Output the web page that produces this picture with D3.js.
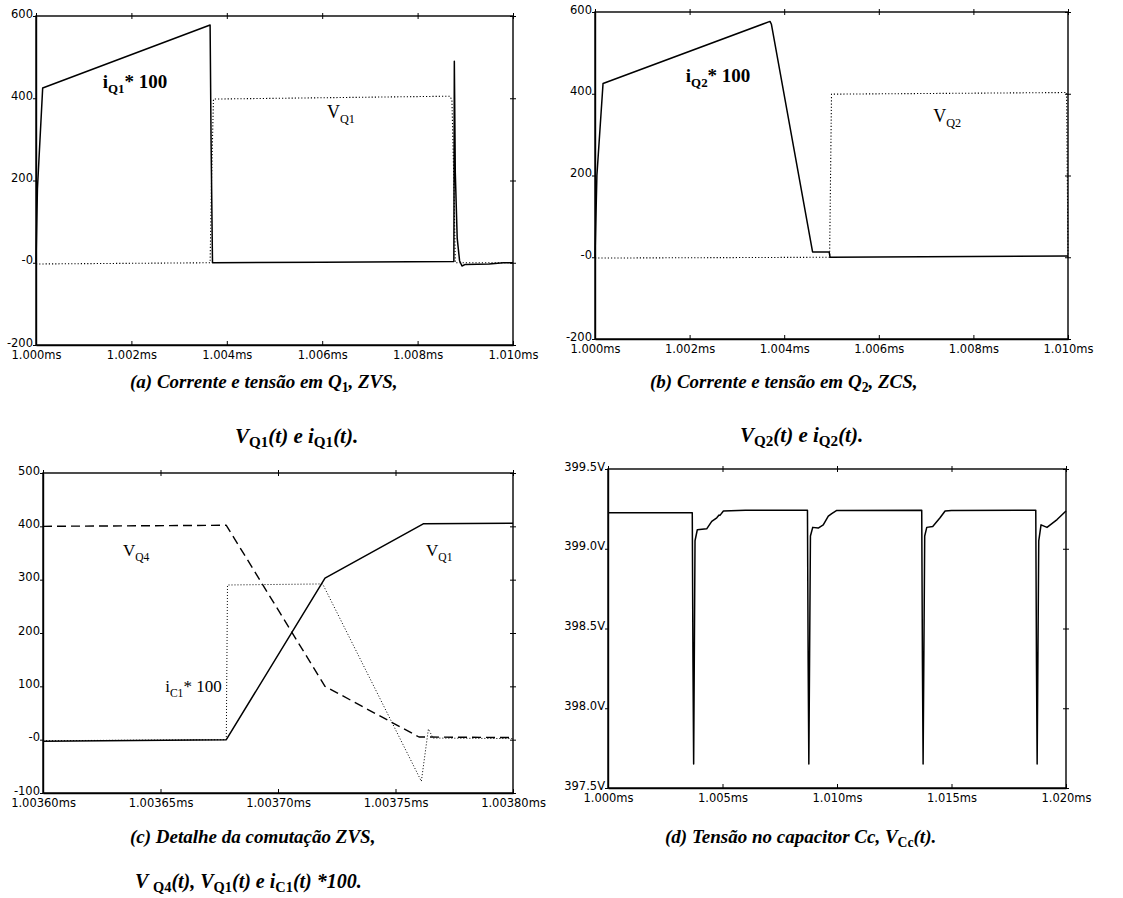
<!DOCTYPE html>
<html><head><meta charset="utf-8">
<script src="https://cdn.jsdelivr.net/npm/d3@7"></script>
<style>body{margin:0;background:#fff}svg{display:block}</style>
</head><body>
<svg id="c" width="1123" height="898"></svg>
<script>
// ---------- Panel (a) ----------
const aTicksX = [1.000, 1.002, 1.004, 1.006, 1.008, 1.010];
const aTickLabelsX = ["1.000ms", "1.002ms", "1.004ms", "1.006ms", "1.008ms", "1.010ms"];
const aTicksY = [-200, 0, 200, 400, 600];
const aTickLabelsY = ["-200", "-0", "200", "400", "600"];
const aIQ1 = [[1.00000, 0], [1.00003, 180], [1.00014, 425], [1.00365, 578], [1.00367, 300], [1.00370, 0],
  [1.00600, 1], [1.00876, 3], [1.00877, 490], [1.00879, 220], [1.00883, 60], [1.00888, 5], [1.00893, -8],
  [1.00900, -4], [1.00950, -3], [1.00980, 0], [1.01000, 0]];
const aVQ1 = [[1.00000, -3], [1.00365, 0], [1.00368, 200], [1.00372, 398], [1.00868, 405], [1.00872, 395],
  [1.00876, 200], [1.00879, 0], [1.01000, 0]];

// ---------- Panel (b) ----------
const bTicksX = [1.000, 1.002, 1.004, 1.006, 1.008, 1.010];
const bTickLabelsX = ["1.000ms", "1.002ms", "1.004ms", "1.006ms", "1.008ms", "1.010ms"];
const bTicksY = [-200, 0, 200, 400, 600];
const bTickLabelsY = ["-200", "-0", "200", "400", "600"];
const bIQ2 = [[1.00000, 0], [1.00004, 200], [1.00017, 425], [1.00370, 577], [1.00373, 570], [1.00460, 13],
  [1.00495, 13], [1.00497, 0], [1.01000, 3]];
const bVQ2 = [[1.00000, -2], [1.00496, 0], [1.00498, 200], [1.00500, 399], [1.00997, 403], [1.01000, 0]];

// ---------- Panel (c) ----------
const cTicksX = [1.00360, 1.00365, 1.00370, 1.00375, 1.00380];
const cTickLabelsX = ["1.00360ms", "1.00365ms", "1.00370ms", "1.00375ms", "1.00380ms"];
const cTicksY = [-100, 0, 100, 200, 300, 400, 500];
const cTickLabelsY = ["-100", "-0", "100", "200", "300", "400", "500"];
const cVQ4 = [[1.003600, 400], [1.003678, 402], [1.003720, 100], [1.003760, 5], [1.003800, 4]];
const cVQ1 = [[1.003600, -3], [1.003678, 0], [1.003720, 303], [1.003762, 405], [1.003800, 406]];
const cIC1 = [[1.003600, -2], [1.003678, 0], [1.0036785, 290], [1.003719, 292], [1.003761, -78],
  [1.003764, 20], [1.003766, 3], [1.003800, 2]];

// ---------- Panel (d) ----------
const dTicksX = [1.000, 1.005, 1.010, 1.015, 1.020];
const dTickLabelsX = ["1.000ms", "1.005ms", "1.010ms", "1.015ms", "1.020ms"];
const dTicksY = [397.5, 398.0, 398.5, 399.0, 399.5];
const dTickLabelsY = ["397.5V", "398.0V", "398.5V", "399.0V", "399.5V"];
const dVCc = [
  [1.00000, 399.226], [1.00368, 399.226], [1.00371, 398.3], [1.00374, 397.65], [1.00380, 399.05],
  [1.00390, 399.119], [1.00431, 399.125], [1.00453, 399.172], [1.00475, 399.194], [1.00485, 399.211],
  [1.00489, 399.209], [1.00504, 399.237], [1.00600, 399.241],
  [1.00871, 399.241], [1.00874, 398.3], [1.00877, 397.65], [1.00884, 399.08], [1.00894, 399.134],
  [1.00918, 399.130], [1.00940, 399.150], [1.00962, 399.205], [1.00977, 399.220], [1.00999, 399.240],
  [1.01370, 399.241], [1.01373, 398.3], [1.01376, 397.65], [1.01383, 399.08], [1.01392, 399.134],
  [1.01418, 399.140], [1.01450, 399.194], [1.01472, 399.237], [1.01500, 399.240],
  [1.01868, 399.241], [1.01871, 398.3], [1.01874, 397.65], [1.01881, 399.05], [1.01891, 399.150],
  [1.01917, 399.134], [1.01961, 399.183], [1.02000, 399.237]];

// ---------- drawing ----------
const svg = d3.select("#c");
const TICKFONT = "'DejaVu Sans','Liberation Sans',sans-serif";
const SERIF = "'Liberation Serif','Times New Roman',serif";

function panel(cfg) {
  const x = d3.scaleLinear().domain(cfg.xd).range([cfg.l, cfg.r]);
  const y = d3.scaleLinear().domain(cfg.yd).range([cfg.b, cfg.t]);
  const g = svg.append("g");
  g.append("rect").attr("x", cfg.l).attr("y", cfg.t).attr("width", cfg.r - cfg.l).attr("height", cfg.b - cfg.t)
    .attr("fill", "none").attr("stroke", "#000").attr("stroke-width", 1.4);
  const bx = g.append("g").attr("transform", `translate(0,${cfg.b})`)
    .call(d3.axisBottom(x).tickValues(cfg.tx).tickSizeInner(-4).tickSizeOuter(0)
      .tickFormat((d, i) => cfg.txl[i]).tickPadding(6));
  bx.select(".domain").attr("stroke-width", 1.7);
  bx.selectAll("text").attr("font-family", TICKFONT).attr("font-size", 11.5).attr("fill", "#000");
  [3, -3].forEach(s => {
    g.append("g").attr("transform", `translate(0,${cfg.t})`)
      .call(d3.axisTop(x).tickValues(cfg.tx).tickSizeInner(s).tickSizeOuter(0).tickFormat(""))
      .select(".domain").remove();
  });
  const ly = g.append("g").attr("transform", `translate(${cfg.l},0)`)
    .call(d3.axisLeft(y).tickValues(cfg.ty).tickSizeInner(3).tickSizeOuter(0)
      .tickFormat((d, i) => cfg.tyl[i]).tickPadding(0));
  ly.select(".domain").attr("stroke-width", 1.4);
  ly.selectAll("text").attr("font-family", TICKFONT).attr("font-size", 11.5).attr("fill", "#000")
    .attr("dy", "0.1em");
  [3, -3].forEach(s => {
    g.append("g").attr("transform", `translate(${cfg.r},0)`)
      .call(d3.axisRight(y).tickValues(cfg.ty).tickSizeInner(s).tickSizeOuter(0).tickFormat(""))
      .select(".domain").remove();
  });
  g.selectAll(".tick line").attr("stroke", "#000").attr("stroke-width", 1);
  const line = d3.line().x(d => x(d[0])).y(d => y(d[1]));
  const clipId = "clip" + cfg.id;
  svg.append("clipPath").attr("id", clipId).append("rect")
    .attr("x", cfg.l - 1).attr("y", cfg.t - 1).attr("width", cfg.r - cfg.l + 2).attr("height", cfg.b - cfg.t + 2);
  cfg.series.forEach(s => {
    g.append("path").datum(s.data).attr("d", line).attr("fill", "none").attr("stroke", "#000")
      .attr("clip-path", `url(#${clipId})`)
      .attr("stroke-width", s.w).attr("stroke-dasharray", s.dash || null).attr("stroke-linejoin", "round");
  });
  cfg.notes.forEach(n => {
    const sz = n.size || 17;
    const t = g.append("text").attr("x", x(n.at[0])).attr("y", y(n.at[1]))
      .attr("font-family", SERIF).attr("font-size", sz).attr("font-weight", n.bold ? "bold" : "normal");
    t.append("tspan").text(n.main);
    t.append("tspan").attr("font-size", sz * 0.68).attr("dy", 5).text(n.sub);
    if (n.rest) t.append("tspan").attr("dy", -5).text(n.rest);
  });
}

panel({ id: "a", l: 36, r: 513, t: 16, b: 345, xd: [1.000, 1.010], yd: [-200, 600],
  tx: aTicksX, txl: aTickLabelsX, ty: aTicksY, tyl: aTickLabelsY,
  series: [{ data: aVQ1, w: 1.1, dash: "1.2,2" }, { data: aIQ1, w: 1.5 }],
  notes: [{ at: [1.0014, 425], main: "i", sub: "Q1", rest: "* 100", bold: true, size: 19 },
          { at: [1.0061, 352], main: "V", sub: "Q1", size: 18 }] });

panel({ id: "b", l: 595, r: 1068, t: 12, b: 339, xd: [1.000, 1.010], yd: [-200, 600],
  tx: bTicksX, txl: bTickLabelsX, ty: bTicksY, tyl: bTickLabelsY,
  series: [{ data: bVQ2, w: 1.1, dash: "1.2,2" }, { data: bIQ2, w: 1.5 }],
  notes: [{ at: [1.00192, 429], main: "i", sub: "Q2", rest: "* 100", bold: true, size: 19 },
          { at: [1.00715, 331], main: "V", sub: "Q2", size: 18 }] });

panel({ id: "c", l: 43, r: 513, t: 473, b: 793, xd: [1.00360, 1.00380], yd: [-100, 500],
  tx: cTicksX, txl: cTickLabelsX, ty: cTicksY, tyl: cTickLabelsY,
  series: [{ data: cIC1, w: 1, dash: "1,2" }, { data: cVQ4, w: 1.4, dash: "9,5" }, { data: cVQ1, w: 1.5 }],
  notes: [{ at: [1.003634, 344], main: "V", sub: "Q4" },
          { at: [1.003763, 344], main: "V", sub: "Q1" },
          { at: [1.003652, 90], main: "i", sub: "C1", rest: "* 100" }] });

panel({ id: "d", l: 608, r: 1066, t: 469, b: 788, xd: [1.000, 1.020], yd: [397.5, 399.5],
  tx: dTicksX, txl: dTickLabelsX, ty: dTicksY, tyl: dTickLabelsY,
  series: [{ data: dVCc, w: 1.5 }], notes: [] });

// ---------- captions ----------
function caption(x, yb, size, parts) {
  const t = svg.append("text").attr("x", x).attr("y", yb).attr("font-family", SERIF)
    .attr("font-size", size).attr("font-weight", "bold").attr("font-style", "italic");
  let lowered = false;
  parts.forEach(p => {
    if (typeof p === "string") {
      t.append("tspan").attr("dy", lowered ? -4 : 0).text(p);
      lowered = false;
    } else {
      t.append("tspan").attr("font-size", size * 0.72).attr("font-style", "normal")
        .attr("dy", lowered ? 0 : 4).text(p.sub);
      lowered = true;
    }
  });
}
caption(130, 388, 19, ["(a) Corrente e tensão em Q", { sub: "1" }, ", ZVS,"]);
caption(235, 443, 21, ["V", { sub: "Q1" }, "(t) e i", { sub: "Q1" }, "(t)."]);
caption(650, 388, 19, ["(b) Corrente e tensão em Q", { sub: "2" }, ", ZCS,"]);
caption(740, 442, 21, ["V", { sub: "Q2" }, "(t) e i", { sub: "Q2" }, "(t)."]);
caption(130, 843, 19, ["(c) Detalhe da comutação ZVS,"]);
caption(135, 888, 20, ["V ", { sub: "Q4" }, "(t), V", { sub: "Q1" }, "(t) e i", { sub: "C1" }, "(t) *100."]);
caption(665, 843, 19, ["(d) Tensão no capacitor Cc, V", { sub: "Cc" }, "(t)."]);
</script>
</body></html>
